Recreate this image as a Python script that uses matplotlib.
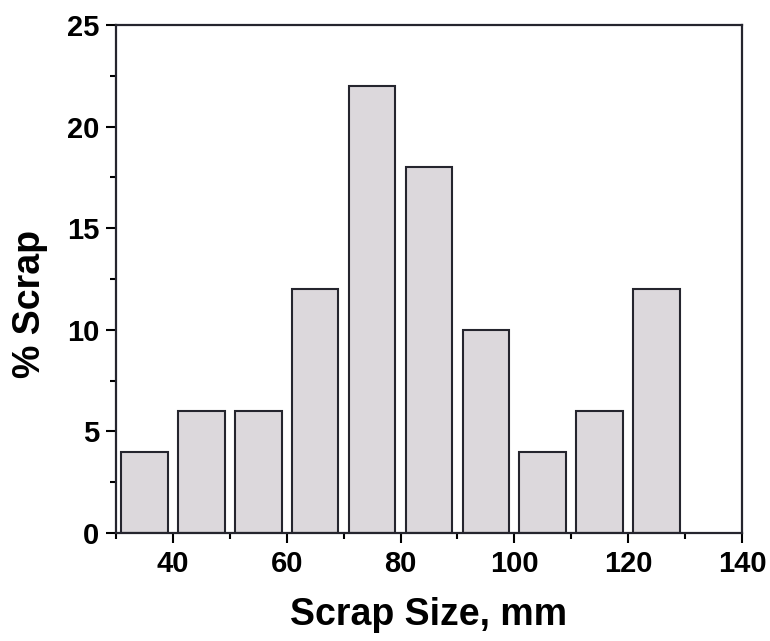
import matplotlib.pyplot as plt
from matplotlib.ticker import MultipleLocator

plt.rcParams['font.family'] = ['Liberation Sans', 'DejaVu Sans']
plt.rcParams['font.weight'] = 'bold'

# bin centres (mm) and share of scrap (%)
sizes = [35, 45, 55, 65, 75, 85, 95, 105, 115, 125]
percent = [4, 6, 6, 12, 22, 18, 10, 4, 6, 12]

fig = plt.figure(figsize=(7.7, 6.41), dpi=100)
ax = fig.add_axes([0.1506, 0.1685, 0.8130, 0.7925])

ax.bar(sizes, percent, width=8.2, color='#dcd8dc', edgecolor='#25252e', linewidth=1.5)

ax.set_xlim(30, 140)
ax.set_ylim(0, 25)
ax.xaxis.set_major_locator(MultipleLocator(20))
ax.xaxis.set_minor_locator(MultipleLocator(10))
ax.yaxis.set_major_locator(MultipleLocator(5))
ax.yaxis.set_minor_locator(MultipleLocator(2.5))

ax.tick_params(which='major', direction='out', length=7, width=1.5, labelsize=21, pad=5)
ax.tick_params(which='minor', direction='out', length=4, width=1.5)
ax.tick_params(top=False, right=False)
for s in ax.spines.values():
    s.set_linewidth(1.6)
    s.set_color('#25252e')

ax.set_xlabel('Scrap Size, mm', fontsize=27, fontweight='bold', labelpad=14)
ax.set_ylabel('% Scrap', fontsize=27, fontweight='bold')
ax.yaxis.set_label_coords(-0.109, 0.45)

fig.savefig('out.png', dpi=100)
